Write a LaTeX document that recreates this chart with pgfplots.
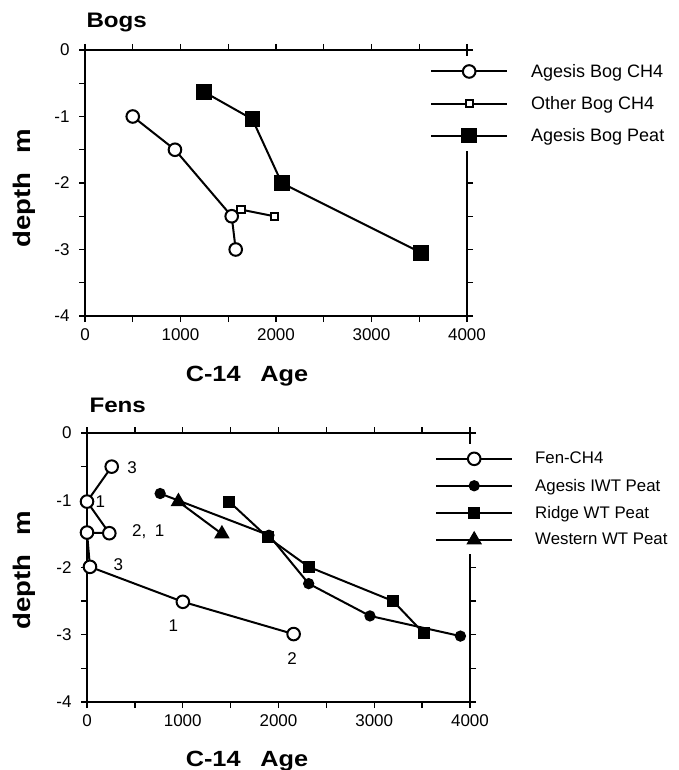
\documentclass[border=0pt]{standalone}
\usepackage{fontspec}
\setmainfont{Liberation Sans}
\newfontfamily\widefont{Liberation Sans}[FakeStretch=1.15]
\usepackage{pgfplots}
\pgfplotsset{compat=1.18}

\pgfplotsset{
  core/.style={
    scale only axis, clip=false,
    xmin=0, xmax=4000, ymin=-4, ymax=0,
    xtick={0,1000,2000,3000,4000}, xticklabels={0,1000,2000,3000,4000},
    ytick={-4,-3,-2,-1,0}, yticklabels={-4,-3,-2,-1,0},
    minor x tick num=1, minor y tick num=1,
    tick align=outside,
    major tick length=6pt, minor tick length=6pt,
    axis line style={line width=1.8pt},
    every tick/.style={black, line width=1.4pt},
    every tick label/.append style={font=\fontsize{17}{19}\selectfont},
    xticklabel style={yshift=-3pt},
    yticklabel style={xshift=-6pt},
    legend cell align=left,
    legend image code/.code={%
      \draw[mark repeat=2,mark phase=2,#1]
        plot coordinates {(0pt,0pt) (38pt,0pt) (76pt,0pt)};},
    every axis plot/.append style={black, line width=2pt},
  },
  hollow/.style={mark options={fill=white, draw=black, line width=2pt, solid}},
  solidmk/.style={mark options={fill=black, draw=black, solid}},
}

\begin{document}
\begin{tikzpicture}
\path[use as bounding box] (0pt,0pt) rectangle (678pt,-770pt);

% ---- Bogs ----
\begin{axis}[core,
  at={(85pt,-50pt)}, anchor=north west, width=382pt, height=266pt,
  legend style={at={(axis description cs:1,1)}, anchor=north west,
    xshift=-39pt, yshift=-6pt, draw=none, fill=white,
    inner xsep=2pt, inner ysep=6pt, row sep=13.5pt,
    font=\fontsize{18}{20}\selectfont,
    /tikz/every odd column/.style={column sep=21pt}},
]
\addplot[mark=*, mark size=6.3pt, hollow]
  coordinates {(500,-1.0) (942,-1.5) (1536,-2.5) (1578,-3.0)};
\addlegendentry{Agesis Bog CH4}
\addplot[mark=square*, mark size=3.6pt, hollow]
  coordinates {(1633,-2.40) (1982,-2.5)};
\addlegendentry{Other Bog CH4}
\addplot[mark=square*, mark size=6.8pt, solidmk]
  coordinates {(1246,-0.63) (1752,-1.04) (2060,-2.0) (3520,-3.05)};
\addlegendentry{Agesis Bog Peat}
\end{axis}

\node[anchor=base west, font=\widefont\bfseries\fontsize{21}{21}\selectfont]
  at (83pt,-28pt) {Bogs};
\node[anchor=base, font=\widefont\bfseries\fontsize{22}{22}\selectfont]
  at (247pt,-381pt) {C-14\hspace{0.9em}Age};
\node[anchor=base, rotate=90, font=\widefont\bfseries\fontsize{24}{24}\selectfont]
  at (30pt,-188pt) {depth\hspace{0.8em}m};

% ---- Fens ----
\begin{axis}[core,
  at={(87pt,-433pt)}, anchor=north west, width=383pt, height=269pt,
  legend style={at={(axis description cs:1,1)}, anchor=north west,
    xshift=-37pt, yshift=-11pt, draw=none, fill=white,
    inner xsep=2pt, inner ysep=6pt, row sep=9.5pt,
    font=\fontsize{16.8}{19}\selectfont,
    /tikz/every odd column/.style={column sep=20pt}},
]
\addplot[mark=*, mark size=6.3pt, hollow]
  coordinates {(258,-0.5) (0,-1.02) (233,-1.49) (0,-1.48) (31,-1.99) (1001,-2.51) (2158,-2.99)};
\addlegendentry{Fen-CH4}
\addplot[mark=*, mark size=4.6pt, solidmk]
  coordinates {(764,-0.9) (1900,-1.52) (2315,-2.24) (2955,-2.72) (3900,-3.02)};
\addlegendentry{Agesis IWT Peat}
\addplot[mark=square*, mark size=5pt, solidmk]
  coordinates {(1485,-1.02) (1886,-1.55) (2315,-1.99) (3198,-2.5) (3518,-2.98)};
\addlegendentry{Ridge WT Peat}
\addplot[mark=triangle*, mark size=7pt, solidmk]
  coordinates {(955,-1.02) (1409,-1.5)};
\addlegendentry{Western WT Peat}

\begin{scope}[every node/.style={fill=white, inner sep=1.5pt, font=\fontsize{17}{19}\selectfont}]
\node at (axis cs:470,-0.52) {3};
\node at (axis cs:140,-1.02) {1};
\node at (axis cs:640,-1.47) {2,\hspace{0.5em}1};
\node at (axis cs:328,-1.96) {3};
\node at (axis cs:903,-2.86) {1};
\node at (axis cs:2141,-3.35) {2};
\end{scope}
\end{axis}

\node[anchor=base west, font=\widefont\bfseries\fontsize{21}{21}\selectfont]
  at (86pt,-412pt) {Fens};
\node[anchor=base, font=\widefont\bfseries\fontsize{22}{22}\selectfont]
  at (247pt,-766pt) {C-14\hspace{0.9em}Age};
\node[anchor=base, rotate=90, font=\widefont\bfseries\fontsize{24}{24}\selectfont]
  at (30pt,-570pt) {depth\hspace{0.8em}m};
\end{tikzpicture}
\end{document}
